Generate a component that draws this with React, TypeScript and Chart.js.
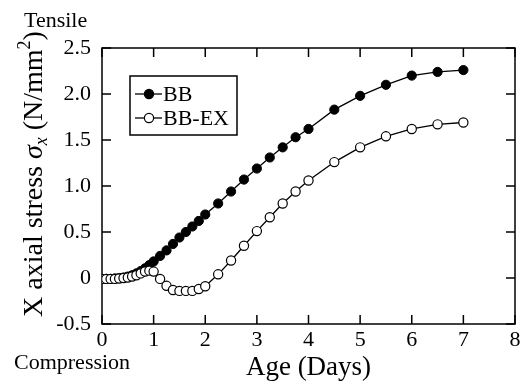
import React, { useEffect, useRef } from "react";
import { Chart, registerables } from "chart.js";

Chart.register(...registerables);

const days = [0, 0.083, 0.167, 0.25, 0.333, 0.417, 0.5, 0.583, 0.667, 0.75, 0.833, 0.917, 1.0, 1.125, 1.25, 1.375, 1.5, 1.625, 1.75, 1.875, 2.0, 2.25, 2.5, 2.75, 3.0, 3.25, 3.5, 3.75, 4.0, 4.5, 5.0, 5.5, 6.0, 6.5, 7.0];
const bbStress = [-0.01, -0.01, -0.01, -0.005, 0.0, 0.005, 0.015, 0.03, 0.05, 0.075, 0.105, 0.14, 0.18, 0.24, 0.3, 0.37, 0.44, 0.5, 0.56, 0.62, 0.69, 0.81, 0.94, 1.07, 1.19, 1.31, 1.42, 1.53, 1.62, 1.83, 1.98, 2.1, 2.2, 2.24, 2.26];
const bbExStress = [-0.01, -0.01, -0.01, -0.01, -0.005, 0.0, 0.005, 0.015, 0.03, 0.05, 0.07, 0.08, 0.07, -0.01, -0.085, -0.13, -0.14, -0.14, -0.14, -0.12, -0.09, 0.04, 0.19, 0.35, 0.51, 0.66, 0.81, 0.94, 1.06, 1.26, 1.42, 1.54, 1.62, 1.67, 1.69];
const seriesNames = ["BB", "BB-EX"];
const xTitle = "Age (Days)";
const topNote = "Tensile";
const bottomNote = "Compression";

const FONT = "'Liberation Serif', 'Times New Roman', serif";

const decorPlugin = {
  id: "decor",
  beforeDatasetsDraw(chart: any) {
    const { ctx, chartArea } = chart;
    const { left, right, top, bottom } = chartArea;
    const xs = chart.scales.x;
    const ys = chart.scales.y;
    ctx.save();
    ctx.strokeStyle = "#000";
    ctx.lineWidth = 1.5;
    ctx.strokeRect(left, top, right - left, bottom - top);
    const tl = 9;
    ctx.beginPath();
    xs.ticks.forEach((t: any) => {
      const px = xs.getPixelForValue(t.value);
      ctx.moveTo(px, bottom);
      ctx.lineTo(px, bottom - tl);
      ctx.moveTo(px, top);
      ctx.lineTo(px, top + tl);
    });
    ys.ticks.forEach((t: any) => {
      const py = ys.getPixelForValue(t.value);
      ctx.moveTo(left, py);
      ctx.lineTo(left + tl, py);
      ctx.moveTo(right, py);
      ctx.lineTo(right - tl, py);
    });
    ctx.stroke();
    ctx.restore();
  },
  afterDraw(chart: any) {
    const { ctx, chartArea } = chart;
    ctx.save();
    ctx.fillStyle = "#000";
    ctx.textBaseline = "alphabetic";
    // notes
    ctx.font = `22px ${FONT}`;
    ctx.textAlign = "left";
    ctx.fillText(topNote, 24, 27);
    ctx.fillText(bottomNote, 14, 369);
    // x title
    ctx.font = `27px ${FONT}`;
    ctx.textAlign = "center";
    ctx.fillText(xTitle, (chartArea.left + chartArea.right) / 2, 375);
    // y title with rich text
    const big = 28;
    const small = 18;
    const segs = [
      { t: "X axial stress ", f: `${big}px ${FONT}`, dy: 0 },
      { t: "\u03c3", f: `italic ${big}px ${FONT}`, dy: 0 },
      { t: "x", f: `italic ${small}px ${FONT}`, dy: 5 },
      { t: " (N/mm", f: `${big}px ${FONT}`, dy: 0 },
      { t: "2", f: `${small}px ${FONT}`, dy: -12 },
      { t: ")", f: `${big}px ${FONT}`, dy: 0 },
    ];
    let total = 0;
    const widths = segs.map((s) => {
      ctx.font = s.f;
      const w = ctx.measureText(s.t).width;
      total += w;
      return w;
    });
    ctx.translate(42, 174);
    ctx.rotate(-Math.PI / 2);
    ctx.textAlign = "left";
    let cx = -total / 2;
    segs.forEach((s, i) => {
      ctx.font = s.f;
      ctx.fillText(s.t, cx, s.dy);
      cx += widths[i];
    });
    ctx.setTransform(1, 0, 0, 1, 0, 0);
    // legend
    ctx.lineWidth = 1.5;
    ctx.strokeStyle = "#000";
    ctx.fillStyle = "#fff";
    ctx.fillRect(130, 76, 107, 59);
    ctx.strokeRect(130, 76, 107, 59);
    const rows = [
      { name: seriesNames[0], y: 94, fill: "#000" },
      { name: seriesNames[1], y: 118, fill: "#fff" },
    ];
    rows.forEach((r) => {
      ctx.lineWidth = 1.3;
      ctx.beginPath();
      ctx.moveTo(135, r.y);
      ctx.lineTo(162, r.y);
      ctx.stroke();
      ctx.beginPath();
      ctx.arc(149, r.y, 4.6, 0, Math.PI * 2);
      ctx.fillStyle = r.fill;
      ctx.fill();
      ctx.lineWidth = 1.2;
      ctx.stroke();
      ctx.fillStyle = "#000";
      ctx.font = `22px ${FONT}`;
      ctx.textAlign = "left";
      ctx.fillText(r.name, 163, r.y + 6.5);
    });
    ctx.restore();
  },
};

export default function App() {
  const ref = useRef<HTMLCanvasElement>(null);
  useEffect(() => {
    if (!ref.current) return;
    const chart = new Chart(ref.current, {
      type: "line",
      data: {
        datasets: [
          {
            label: seriesNames[0],
            data: days.map((d, i) => ({ x: d, y: bbStress[i] })),
            borderColor: "#000",
            borderWidth: 1.3,
            backgroundColor: "#000",
            pointBackgroundColor: "#000",
            pointBorderColor: "#000",
            pointBorderWidth: 1,
            pointRadius: 4.6,
            tension: 0,
            order: 1,
          },
          {
            label: seriesNames[1],
            data: days.map((d, i) => ({ x: d, y: bbExStress[i] })),
            borderColor: "#000",
            borderWidth: 1.3,
            backgroundColor: "#fff",
            pointBackgroundColor: "#fff",
            pointBorderColor: "#000",
            pointBorderWidth: 1.2,
            pointRadius: 4.6,
            tension: 0,
            order: 0,
          },
        ],
      },
      options: {
        responsive: false,
        animation: false,
        layout: { padding: { top: 48, right: 9, left: 0, bottom: 0 } },
        plugins: { legend: { display: false }, tooltip: { enabled: false } },
        scales: {
          x: {
            type: "linear",
            min: 0,
            max: 8,
            grid: { display: false, drawTicks: false },
            border: { display: false },
            ticks: {
              stepSize: 1,
              padding: 3,
              color: "#000",
              font: { family: FONT, size: 22 },
              maxRotation: 0,
              callback: (v: any) => String(v),
            },
            afterFit: (s: any) => {
              s.height = 61;
            },
          },
          y: {
            type: "linear",
            min: -0.5,
            max: 2.5,
            grid: { display: false, drawTicks: false },
            border: { display: false },
            ticks: {
              stepSize: 0.5,
              padding: 11,
              color: "#000",
              font: { family: FONT, size: 22 },
              callback: (v: any) => (v === 0 ? "0" : Number(v).toFixed(1)),
            },
            afterFit: (s: any) => {
              s.width = 102;
            },
          },
        },
      },
      plugins: [decorPlugin],
    });
    return () => chart.destroy();
  }, []);
  return (
    <div style={{ position: "absolute", left: 0, top: 0, width: 524, height: 385 }}>
      <canvas ref={ref} width={524} height={385} style={{ display: "block" }} />
    </div>
  );
}
